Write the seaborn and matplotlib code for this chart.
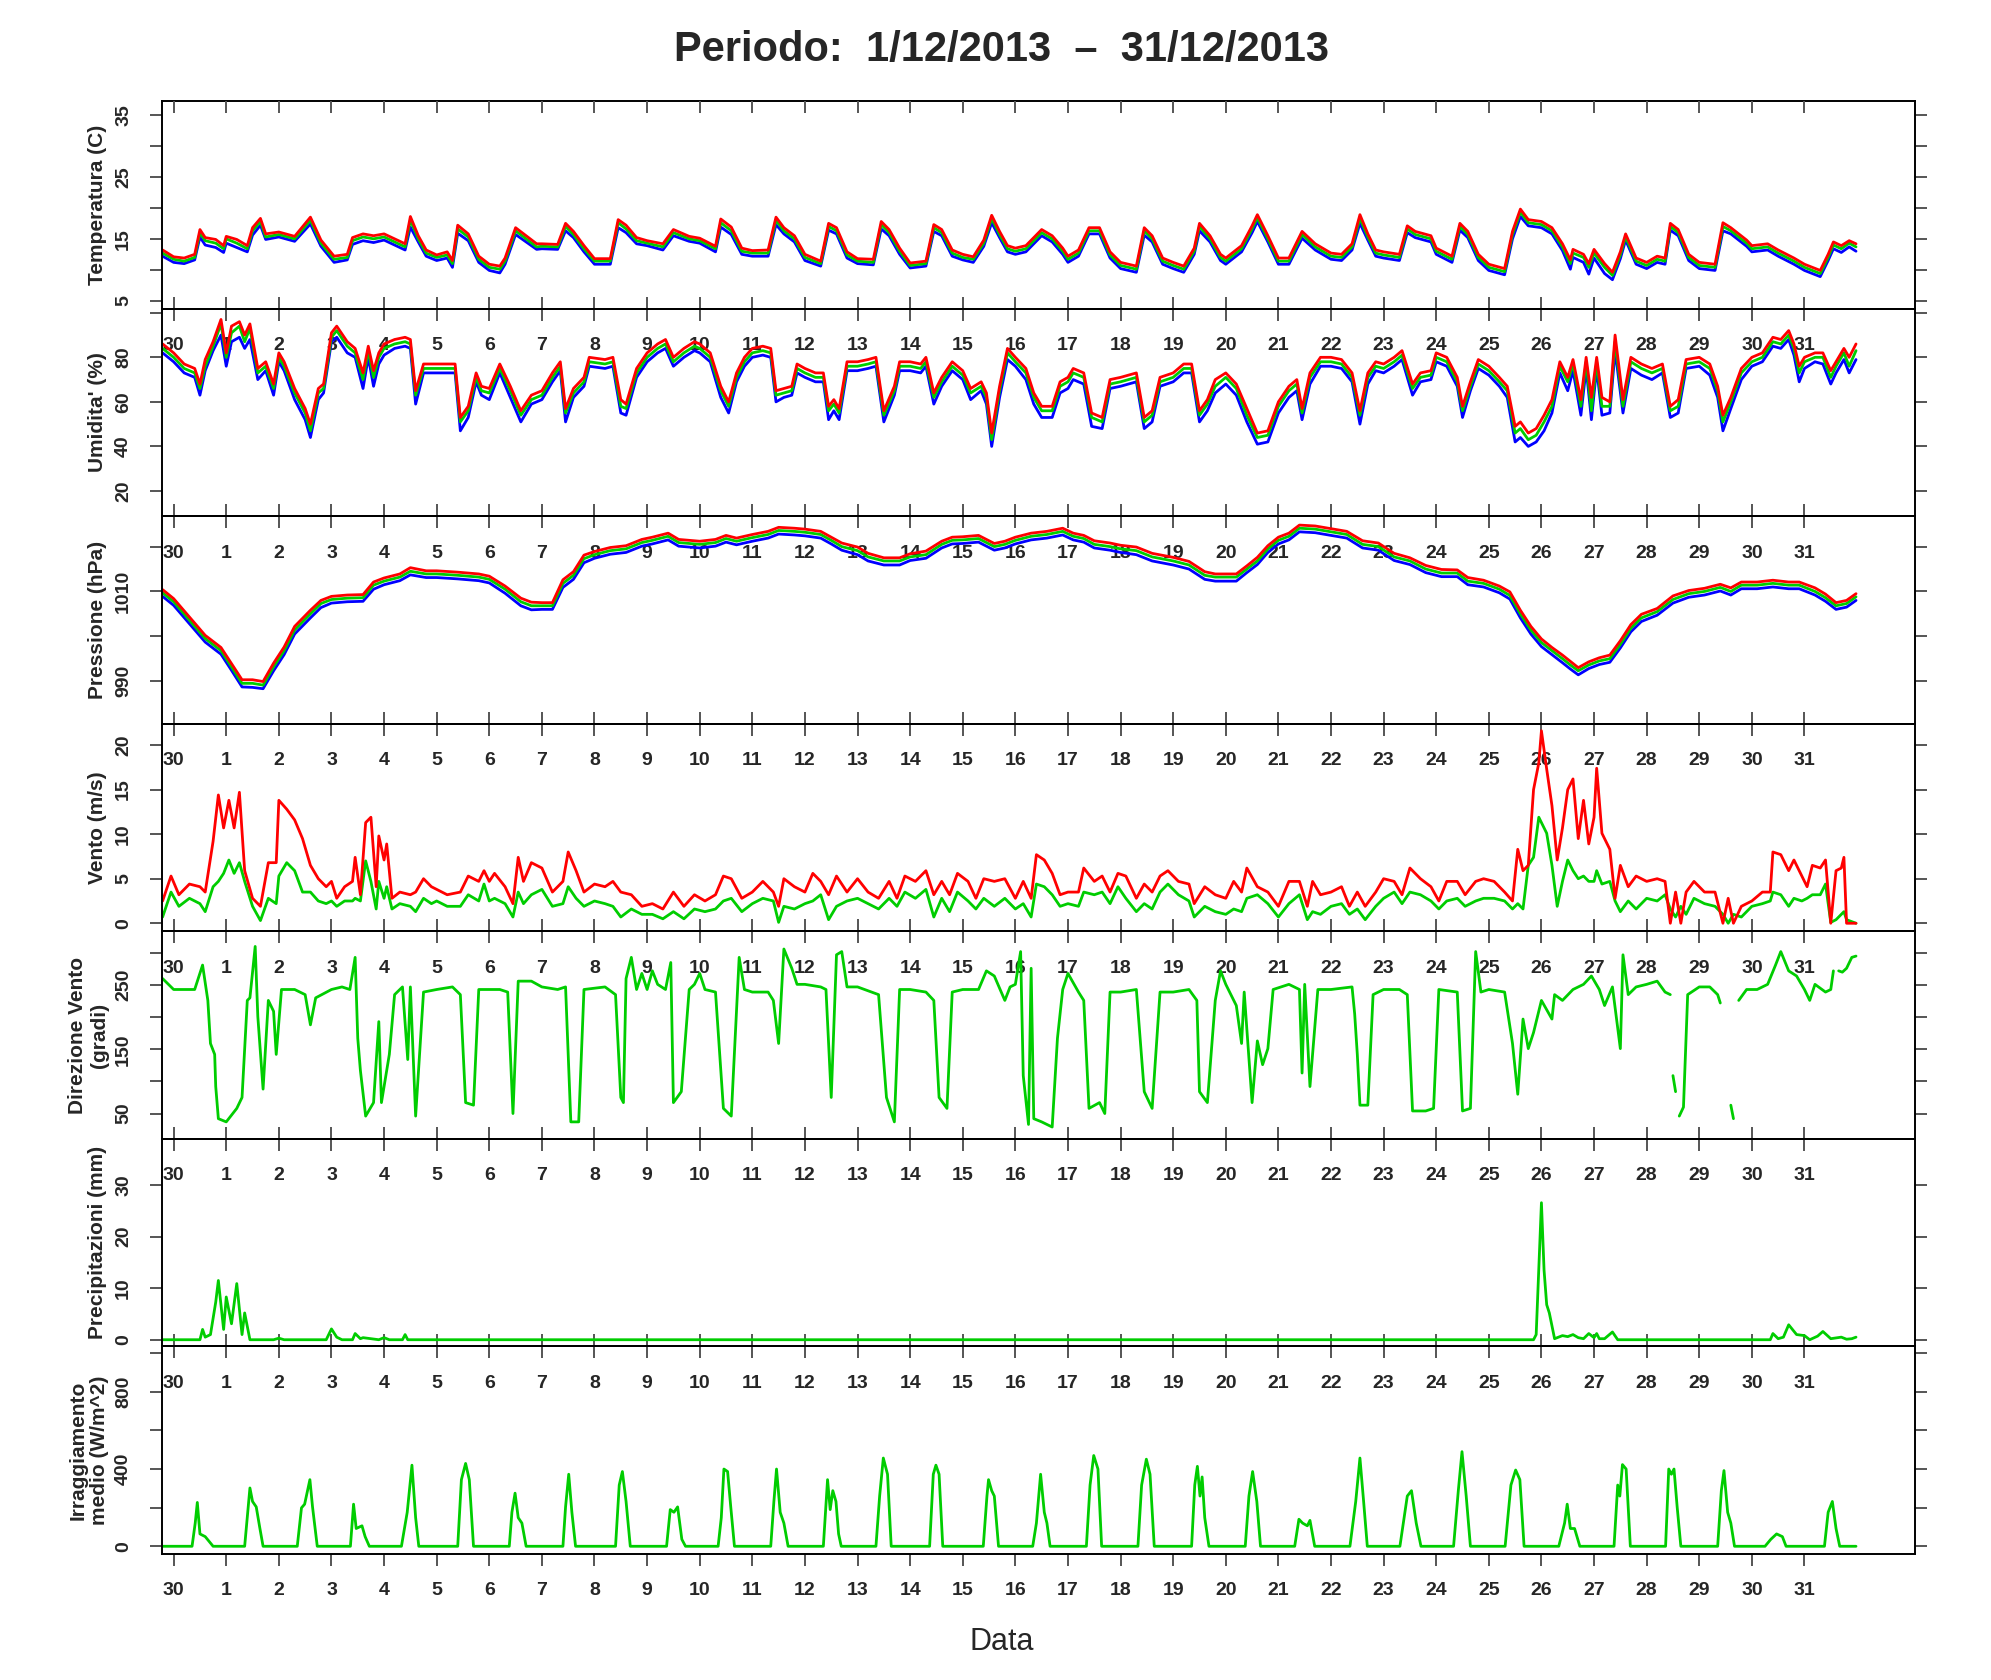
import pandas as pd
import seaborn as sns
import matplotlib.pyplot as plt
import matplotlib.dates as mdates

# Values. Times are in days counted from 30/11 00:00.

# Temperatura (C): min / media / max
temp_day = [-0.21, 0.0, 0.2, 0.4, 0.5, 0.6, 0.8, 0.95, 1.0, 1.2,
            1.4, 1.5, 1.65, 1.75, 2.0, 2.3, 2.6, 2.8, 3.05, 3.3,
            3.4, 3.6, 3.8, 4.0, 4.2, 4.4, 4.5, 4.65, 4.8, 5.0,
            5.2, 5.3, 5.4, 5.6, 5.8, 6.0, 6.2, 6.3, 6.5, 6.7,
            6.9, 7.0, 7.3, 7.45, 7.6, 7.8, 8.0, 8.3, 8.45, 8.6,
            8.8, 9.0, 9.3, 9.5, 9.8, 10.0, 10.3, 10.4, 10.6, 10.8,
            11.0, 11.3, 11.45, 11.6, 11.8, 12.0, 12.3, 12.45, 12.6, 12.8,
            13.0, 13.3, 13.45, 13.6, 13.8, 14.0, 14.3, 14.45, 14.6, 14.8,
            15.0, 15.2, 15.4, 15.55, 15.7, 15.85, 16.0, 16.2, 16.5, 16.7,
            16.9, 17.0, 17.2, 17.4, 17.6, 17.8, 18.0, 18.3, 18.45, 18.6,
            18.8, 19.0, 19.2, 19.4, 19.5, 19.7, 19.9, 20.0, 20.3, 20.5,
            20.6, 20.8, 21.0, 21.2, 21.45, 21.7, 22.0, 22.2, 22.4, 22.55,
            22.7, 22.85, 23.0, 23.3, 23.45, 23.6, 23.9, 24.0, 24.3, 24.45,
            24.6, 24.8, 25.0, 25.3, 25.45, 25.6, 25.75, 26.0, 26.2, 26.4,
            26.55, 26.6, 26.8, 26.9, 27.0, 27.2, 27.35, 27.5, 27.6, 27.8,
            28.0, 28.2, 28.35, 28.45, 28.6, 28.8, 29.0, 29.3, 29.45, 29.6,
            29.9, 30.0, 30.3, 30.5, 30.8, 31.0, 31.3, 31.45, 31.55, 31.7,
            31.85, 31.98]
temp_mean = [12.7, 11.7, 11.4, 12.0, 16.0, 14.7, 14.3, 13.4, 15.0, 14.3,
             13.4, 16.3, 17.8, 15.3, 15.7, 15.0, 18.0, 14.3, 11.7, 12.0,
             14.7, 15.3, 15.0, 15.3, 14.5, 13.7, 18.0, 15.0, 12.7, 12.0,
             12.4, 11.0, 16.6, 15.3, 11.7, 10.4, 10.1, 11.4, 16.3, 15.0,
             13.7, 13.8, 13.7, 17.0, 15.7, 13.4, 11.4, 11.4, 17.6, 16.6,
             14.7, 14.3, 13.7, 16.0, 15.0, 14.7, 13.4, 17.6, 16.3, 13.0,
             12.7, 12.7, 18.0, 16.3, 15.0, 12.0, 11.0, 17.0, 16.3, 12.4,
             11.4, 11.2, 17.3, 16.0, 13.0, 10.7, 11.0, 16.8, 16.0, 12.7,
             12.0, 11.7, 14.3, 18.3, 15.7, 13.4, 13.0, 13.4, 16.0, 15.0,
             13.0, 11.7, 12.7, 16.3, 16.3, 12.4, 10.7, 10.1, 16.3, 15.0,
             11.4, 10.7, 10.1, 13.0, 17.0, 15.0, 12.0, 11.4, 13.4, 16.6,
             18.4, 15.0, 11.4, 11.4, 15.7, 13.7, 12.2, 12.0, 13.7, 18.3,
             15.3, 12.7, 12.4, 12.0, 16.6, 15.7, 15.0, 13.0, 11.7, 17.0,
             15.7, 12.0, 10.4, 9.7, 15.7, 19.3, 17.6, 17.3, 16.3, 13.7,
             11.0, 12.7, 12.0, 10.4, 12.7, 10.4, 9.1, 12.4, 15.3, 11.4,
             10.7, 11.7, 11.4, 17.0, 16.0, 12.0, 10.7, 10.4, 17.0, 16.3,
             14.3, 13.4, 13.7, 12.7, 11.4, 10.4, 9.4, 12.0, 14.0, 13.4,
             14.3, 13.7]
temp_max = [13.2, 12.1, 11.9, 12.5, 16.5, 15.2, 14.9, 13.9, 15.4, 14.9,
            13.9, 16.8, 18.3, 15.8, 16.1, 15.4, 18.5, 14.8, 12.2, 12.5,
            15.2, 15.8, 15.5, 15.8, 15.0, 14.2, 18.6, 15.5, 13.2, 12.4,
            12.9, 11.5, 17.2, 15.8, 12.2, 10.9, 10.6, 11.9, 16.8, 15.5,
            14.2, 14.2, 14.1, 17.5, 16.2, 13.9, 11.8, 11.8, 18.1, 17.2,
            15.2, 14.7, 14.2, 16.5, 15.4, 15.1, 13.8, 18.2, 16.9, 13.5,
            13.1, 13.2, 18.5, 16.8, 15.5, 12.5, 11.4, 17.5, 16.8, 12.9,
            11.8, 11.7, 17.8, 16.5, 13.5, 11.1, 11.4, 17.3, 16.5, 13.2,
            12.5, 12.1, 14.8, 18.8, 16.2, 13.9, 13.5, 13.9, 16.5, 15.5,
            13.5, 12.2, 13.2, 16.8, 16.8, 12.9, 11.2, 10.6, 16.8, 15.5,
            11.9, 11.2, 10.6, 13.5, 17.5, 15.5, 12.5, 11.9, 13.9, 17.1,
            18.9, 15.5, 11.9, 11.9, 16.2, 14.2, 12.7, 12.5, 14.2, 18.9,
            15.8, 13.2, 12.9, 12.5, 17.1, 16.2, 15.5, 13.5, 12.2, 17.5,
            16.2, 12.5, 10.9, 10.2, 16.2, 19.8, 18.1, 17.8, 16.8, 14.2,
            11.6, 13.3, 12.5, 11.0, 13.3, 11.0, 9.6, 12.9, 15.8, 11.9,
            11.2, 12.2, 11.9, 17.5, 16.5, 12.5, 11.2, 10.9, 17.6, 16.8,
            14.8, 13.9, 14.2, 13.2, 11.9, 10.9, 9.9, 12.5, 14.5, 13.9,
            14.7, 14.2]
temp_min = [12.2, 11.2, 11.0, 11.6, 15.3, 14.0, 13.6, 12.8, 14.3, 13.6,
            12.9, 15.6, 17.2, 14.9, 15.3, 14.6, 17.4, 13.8, 11.2, 11.6,
            14.1, 14.7, 14.4, 14.8, 14.0, 13.2, 16.9, 14.5, 12.2, 11.5,
            11.9, 10.4, 15.9, 14.7, 11.2, 9.9, 9.5, 10.9, 15.7, 14.5,
            13.3, 13.4, 13.3, 16.3, 15.2, 12.9, 10.9, 10.9, 16.8, 16.0,
            14.2, 13.9, 13.2, 15.5, 14.6, 14.3, 12.9, 16.9, 15.7, 12.5,
            12.2, 12.2, 17.3, 15.8, 14.5, 11.5, 10.6, 16.4, 15.8, 11.9,
            11.0, 10.8, 16.6, 15.5, 12.5, 10.3, 10.6, 16.2, 15.5, 12.2,
            11.6, 11.2, 13.8, 17.6, 15.2, 12.9, 12.5, 12.9, 15.5, 14.5,
            12.5, 11.2, 12.2, 15.8, 15.8, 11.9, 10.2, 9.6, 15.6, 14.5,
            10.9, 10.2, 9.6, 12.5, 16.3, 14.5, 11.5, 10.9, 12.9, 16.0,
            17.8, 14.5, 10.9, 10.9, 15.1, 13.2, 11.7, 11.5, 13.2, 17.5,
            14.8, 12.2, 11.9, 11.5, 16.0, 15.2, 14.5, 12.5, 11.2, 16.4,
            15.2, 11.5, 9.9, 9.2, 15.0, 18.6, 17.1, 16.8, 15.8, 13.1,
            10.1, 12.0, 11.2, 9.3, 11.9, 9.4, 8.4, 11.8, 14.8, 10.9,
            10.2, 11.2, 10.9, 16.4, 15.5, 11.5, 10.2, 9.9, 16.3, 15.8,
            13.8, 12.9, 13.2, 12.2, 10.9, 9.9, 8.9, 11.5, 13.4, 12.8,
            13.7, 13.0]

# Umidita' (%): min / media / max
hum_day = [-0.21, 0.0, 0.2, 0.4, 0.5, 0.6, 0.75, 0.9, 1.0, 1.1,
           1.25, 1.35, 1.45, 1.6, 1.75, 1.9, 2.0, 2.1, 2.3, 2.5,
           2.6, 2.75, 2.85, 3.0, 3.1, 3.3, 3.45, 3.6, 3.7, 3.8,
           3.9, 4.0, 4.2, 4.4, 4.5, 4.6, 4.75, 5.0, 5.2, 5.35,
           5.45, 5.6, 5.75, 5.85, 6.0, 6.2, 6.4, 6.6, 6.8, 7.0,
           7.2, 7.35, 7.45, 7.6, 7.8, 7.9, 8.2, 8.35, 8.5, 8.6,
           8.8, 9.0, 9.2, 9.35, 9.5, 9.7, 9.9, 10.0, 10.2, 10.4,
           10.55, 10.7, 10.85, 11.0, 11.2, 11.35, 11.45, 11.6, 11.75, 11.85,
           12.0, 12.2, 12.35, 12.45, 12.55, 12.65, 12.8, 13.0, 13.2, 13.35,
           13.5, 13.7, 13.8, 14.0, 14.2, 14.3, 14.45, 14.6, 14.8, 15.0,
           15.15, 15.35, 15.45, 15.55, 15.7, 15.85, 16.0, 16.2, 16.35, 16.5,
           16.7, 16.85, 17.0, 17.1, 17.3, 17.45, 17.65, 17.8, 18.0, 18.3,
           18.45, 18.6, 18.75, 19.0, 19.2, 19.35, 19.5, 19.65, 19.8, 20.0,
           20.2, 20.4, 20.6, 20.8, 21.0, 21.2, 21.35, 21.45, 21.6, 21.8,
           22.0, 22.2, 22.4, 22.55, 22.7, 22.85, 23.0, 23.2, 23.35, 23.55,
           23.7, 23.9, 24.0, 24.2, 24.4, 24.5, 24.65, 24.8, 25.0, 25.2,
           25.35, 25.5, 25.6, 25.75, 25.9, 26.05, 26.2, 26.35, 26.5, 26.6,
           26.75, 26.85, 26.95, 27.05, 27.15, 27.3, 27.4, 27.55, 27.7, 27.9,
           28.1, 28.3, 28.45, 28.6, 28.75, 29.0, 29.2, 29.35, 29.45, 29.6,
           29.8, 30.0, 30.2, 30.4, 30.55, 30.7, 30.8, 30.9, 31.0, 31.2,
           31.35, 31.5, 31.6, 31.75, 31.85, 31.98]
hum_mean = [84, 80, 75, 73, 66, 76, 85, 95, 80, 91,
            94, 87, 93, 73, 76, 66, 80, 76, 64, 55,
            47, 64, 66, 89, 92, 85, 82, 70, 83, 71,
            80, 84, 86, 87, 86, 63, 75, 75, 75, 75,
            51, 56, 71, 65, 64, 75, 65, 54, 61, 63,
            71, 76, 55, 64, 69, 78, 77, 78, 58, 57,
            73, 80, 84, 86, 78, 82, 85, 84, 80, 65,
            58, 71, 78, 82, 83, 82, 63, 64, 65, 75,
            73, 71, 71, 56, 59, 55, 76, 76, 77, 78,
            54, 65, 76, 76, 75, 78, 62, 69, 76, 72,
            64, 67, 62, 43, 65, 82, 78, 73, 62, 56,
            56, 67, 69, 73, 71, 53, 51, 68, 69, 71,
            51, 54, 69, 71, 75, 75, 54, 59, 67, 71,
            66, 54, 44, 45, 58, 65, 68, 55, 71, 78,
            78, 77, 71, 54, 71, 76, 75, 78, 81, 66,
            71, 72, 80, 78, 69, 56, 67, 77, 74, 69,
            65, 46, 48, 43, 45, 51, 58, 76, 69, 77,
            58, 78, 56, 78, 58, 58, 87, 58, 78, 75,
            73, 75, 56, 58, 77, 78, 75, 65, 51, 60,
            73, 78, 80, 87, 86, 90, 84, 73, 78, 80,
            80, 71, 76, 82, 76, 83]
hum_max = [86, 82, 77, 75, 68, 79, 87, 97, 82, 94,
           96, 90, 95, 75, 78, 68, 82, 78, 66, 57,
           50, 66, 68, 91, 94, 87, 84, 73, 85, 74,
           82, 86, 88, 89, 88, 65, 77, 77, 77, 77,
           53, 58, 73, 67, 66, 77, 67, 56, 63, 65,
           73, 78, 57, 66, 71, 80, 79, 80, 61, 59,
           75, 82, 86, 88, 80, 84, 87, 86, 82, 67,
           60, 73, 80, 84, 85, 84, 65, 66, 67, 77,
           75, 73, 73, 58, 61, 57, 78, 78, 79, 80,
           56, 67, 78, 78, 77, 80, 64, 71, 78, 74,
           66, 69, 64, 46, 67, 84, 80, 75, 64, 58,
           58, 69, 71, 75, 73, 55, 53, 70, 71, 73,
           53, 56, 71, 73, 77, 77, 56, 61, 70, 73,
           68, 57, 46, 47, 60, 67, 70, 57, 73, 80,
           80, 79, 73, 56, 73, 78, 77, 80, 83, 68,
           73, 74, 82, 80, 71, 58, 69, 79, 76, 71,
           67, 49, 51, 46, 48, 54, 61, 78, 71, 79,
           61, 80, 62, 80, 62, 60, 90, 61, 80, 77,
           75, 77, 58, 61, 79, 80, 77, 67, 54, 62,
           75, 80, 82, 89, 88, 92, 86, 76, 80, 82,
           82, 74, 78, 84, 80, 86]
hum_min = [82, 78, 73, 71, 63, 74, 83, 90, 76, 87,
           89, 84, 88, 70, 74, 63, 78, 74, 61, 52,
           44, 61, 64, 87, 89, 82, 80, 66, 80, 67,
           77, 81, 84, 85, 84, 59, 73, 73, 73, 73,
           47, 53, 69, 63, 61, 73, 62, 51, 59, 61,
           69, 74, 51, 62, 67, 76, 75, 76, 55, 54,
           71, 78, 82, 84, 76, 80, 83, 82, 78, 62,
           55, 69, 76, 80, 81, 80, 60, 62, 63, 73,
           71, 69, 69, 52, 56, 52, 74, 74, 75, 76,
           51, 63, 74, 74, 73, 76, 59, 67, 74, 70,
           61, 65, 59, 40, 62, 79, 76, 70, 59, 53,
           53, 64, 66, 70, 68, 49, 48, 66, 67, 69,
           48, 51, 67, 69, 73, 73, 51, 56, 64, 68,
           63, 51, 41, 42, 55, 62, 65, 52, 68, 76,
           76, 75, 69, 50, 68, 74, 73, 76, 79, 63,
           69, 70, 78, 76, 67, 53, 65, 75, 72, 67,
           62, 42, 44, 40, 42, 47, 55, 73, 65, 74,
           54, 75, 52, 75, 54, 55, 83, 55, 75, 72,
           70, 73, 53, 55, 75, 76, 72, 62, 47, 57,
           70, 76, 78, 85, 84, 88, 81, 69, 75, 78,
           77, 68, 73, 79, 73, 79]

# Pressione (hPa): min / media / max
pres_day = [-0.21, 0.0, 0.3, 0.6, 0.9, 1.1, 1.3, 1.5, 1.7, 1.9,
            2.1, 2.3, 2.6, 2.8, 3.0, 3.3, 3.6, 3.8, 4.0, 4.3,
            4.5, 4.8, 5.0, 5.4, 5.8, 6.0, 6.3, 6.6, 6.8, 7.0,
            7.2, 7.4, 7.6, 7.8, 8.0, 8.3, 8.6, 8.9, 9.1, 9.4,
            9.6, 10.0, 10.3, 10.5, 10.7, 11.0, 11.3, 11.5, 11.8, 12.0,
            12.3, 12.5, 12.7, 13.0, 13.2, 13.5, 13.8, 14.0, 14.3, 14.6,
            14.8, 15.0, 15.3, 15.6, 15.8, 16.0, 16.3, 16.6, 16.9, 17.1,
            17.3, 17.5, 17.8, 18.0, 18.3, 18.6, 19.0, 19.3, 19.6, 19.8,
            20.0, 20.2, 20.4, 20.6, 20.8, 21.0, 21.2, 21.4, 21.7, 22.0,
            22.3, 22.6, 22.9, 23.2, 23.5, 23.8, 24.1, 24.4, 24.6, 24.9,
            25.2, 25.4, 25.6, 25.8, 26.0, 26.2, 26.4, 26.55, 26.7, 26.9,
            27.1, 27.3, 27.5, 27.7, 27.9, 28.2, 28.5, 28.8, 29.1, 29.4,
            29.6, 29.8, 30.1, 30.4, 30.7, 30.9, 31.2, 31.4, 31.6, 31.8,
            31.98]
pres_mean = [1009.7, 1007.7, 1003.6, 999.5, 996.8, 993.2, 989.5, 989.5, 989.1, 993.2,
             996.8, 1001.4, 1005.0, 1007.3, 1008.2, 1008.5, 1008.6, 1011.4, 1012.3, 1013.2,
             1014.5, 1013.9, 1013.9, 1013.6, 1013.2, 1012.7, 1010.5, 1007.7, 1006.8, 1006.8,
             1006.8, 1011.8, 1013.6, 1017.3, 1018.2, 1019.1, 1019.5, 1020.9, 1021.4, 1022.3,
             1020.9, 1020.5, 1020.9, 1021.8, 1021.2, 1022.0, 1022.7, 1023.6, 1023.4, 1023.2,
             1022.7, 1021.4, 1020.0, 1019.1, 1017.7, 1016.8, 1016.8, 1017.7, 1018.2, 1020.5,
             1021.4, 1021.5, 1021.8, 1020.0, 1020.5, 1021.4, 1022.3, 1022.7, 1023.4, 1022.3,
             1021.8, 1020.5, 1020.0, 1019.5, 1019.1, 1017.7, 1016.8, 1015.9, 1013.6, 1013.2,
             1013.2, 1013.2, 1015.0, 1016.8, 1019.5, 1021.4, 1022.3, 1024.1, 1023.9, 1023.3,
             1022.7, 1020.5, 1020.0, 1017.7, 1016.8, 1015.0, 1014.1, 1014.1, 1012.3, 1011.8,
             1010.5, 1009.1, 1005.0, 1001.4, 998.6, 996.8, 995.0, 993.6, 992.3, 993.6,
             994.5, 995.0, 998.2, 1001.8, 1004.1, 1005.5, 1008.2, 1009.5, 1010.0, 1010.9,
             1010.0, 1011.4, 1011.4, 1011.8, 1011.4, 1011.4, 1010.0, 1008.6, 1006.8, 1007.3,
             1008.8]
pres_max = [1010.4, 1008.4, 1004.3, 1000.2, 997.5, 993.9, 990.3, 990.3, 989.9, 994.0,
            997.6, 1002.2, 1005.8, 1008.0, 1008.9, 1009.2, 1009.3, 1012.1, 1013.0, 1013.9,
            1015.3, 1014.6, 1014.6, 1014.3, 1013.9, 1013.4, 1011.2, 1008.5, 1007.6, 1007.5,
            1007.5, 1012.6, 1014.4, 1018.1, 1018.9, 1019.8, 1020.2, 1021.6, 1022.1, 1023.0,
            1021.6, 1021.2, 1021.6, 1022.5, 1021.9, 1022.7, 1023.4, 1024.3, 1024.1, 1023.9,
            1023.4, 1022.1, 1020.8, 1019.9, 1018.5, 1017.5, 1017.5, 1018.4, 1019.0, 1021.2,
            1022.1, 1022.2, 1022.5, 1020.7, 1021.2, 1022.1, 1023.0, 1023.4, 1024.1, 1023.0,
            1022.5, 1021.3, 1020.8, 1020.3, 1019.9, 1018.5, 1017.6, 1016.7, 1014.4, 1013.9,
            1013.9, 1013.9, 1015.7, 1017.6, 1020.2, 1022.1, 1023.0, 1024.8, 1024.6, 1024.0,
            1023.4, 1021.3, 1020.8, 1018.5, 1017.5, 1015.8, 1014.9, 1014.8, 1013.1, 1012.5,
            1011.2, 1009.9, 1005.8, 1002.2, 999.4, 997.5, 995.8, 994.4, 993.0, 994.3,
            995.2, 995.8, 999.0, 1002.6, 1004.9, 1006.2, 1009.0, 1010.2, 1010.7, 1011.6,
            1010.8, 1012.1, 1012.1, 1012.5, 1012.1, 1012.1, 1010.8, 1009.4, 1007.5, 1008.0,
            1009.5]
pres_min = [1008.9, 1006.9, 1002.8, 998.7, 996.0, 992.4, 988.7, 988.6, 988.3, 992.3,
            995.9, 1000.5, 1004.1, 1006.4, 1007.4, 1007.7, 1007.8, 1010.5, 1011.5, 1012.4,
            1013.7, 1013.1, 1013.1, 1012.8, 1012.4, 1011.9, 1009.6, 1006.8, 1005.9, 1006.0,
            1006.0, 1010.9, 1012.7, 1016.4, 1017.4, 1018.3, 1018.7, 1020.1, 1020.6, 1021.5,
            1020.1, 1019.7, 1020.1, 1021.0, 1020.4, 1021.2, 1021.9, 1022.8, 1022.6, 1022.4,
            1021.9, 1020.6, 1019.2, 1018.2, 1016.8, 1015.9, 1015.9, 1016.9, 1017.4, 1019.7,
            1020.6, 1020.7, 1021.0, 1019.2, 1019.7, 1020.6, 1021.5, 1021.9, 1022.6, 1021.5,
            1021.0, 1019.7, 1019.2, 1018.7, 1018.2, 1016.8, 1015.9, 1015.0, 1012.7, 1012.3,
            1012.3, 1012.3, 1014.2, 1016.0, 1018.7, 1020.6, 1021.5, 1023.3, 1023.1, 1022.5,
            1021.9, 1019.7, 1019.2, 1016.9, 1016.0, 1014.2, 1013.3, 1013.3, 1011.5, 1011.0,
            1009.7, 1008.3, 1004.1, 1000.5, 997.7, 995.9, 994.1, 992.7, 991.4, 992.8,
            993.7, 994.2, 997.4, 1001.0, 1003.3, 1004.7, 1007.4, 1008.7, 1009.2, 1010.1,
            1009.2, 1010.6, 1010.6, 1011.0, 1010.6, 1010.6, 1009.2, 1007.8, 1006.0, 1006.5,
            1008.0]

# Vento (m/s): media (verde) e raffica (rosso)
wind_day = [-0.21, -0.05, 0.1, 0.3, 0.5, 0.6, 0.75, 0.85, 0.95, 1.05,
            1.15, 1.25, 1.35, 1.5, 1.65, 1.8, 1.95, 2.0, 2.15, 2.3,
            2.45, 2.6, 2.75, 2.9, 3.0, 3.1, 3.25, 3.4, 3.45, 3.55,
            3.65, 3.75, 3.85, 3.9, 4.0, 4.05, 4.15, 4.3, 4.5, 4.6,
            4.75, 4.9, 5.0, 5.2, 5.45, 5.6, 5.8, 5.9, 6.0, 6.1,
            6.3, 6.45, 6.55, 6.65, 6.8, 7.0, 7.2, 7.4, 7.5, 7.65,
            7.8, 8.0, 8.2, 8.35, 8.5, 8.7, 8.9, 9.1, 9.3, 9.5,
            9.7, 9.9, 10.1, 10.3, 10.45, 10.6, 10.8,
            11.0, 11.2, 11.4, 11.5, 11.6, 11.8, 12.0, 12.15, 12.3, 12.45,
            12.6, 12.8, 13.0, 13.2, 13.4, 13.6, 13.75, 13.9, 14.1, 14.3,
            14.45, 14.6, 14.75, 14.9, 15.1, 15.25, 15.4, 15.6, 15.8, 16.0,
            16.15, 16.3, 16.4, 16.55, 16.7, 16.85, 17.0, 17.2, 17.3, 17.5,
            17.65, 17.8, 17.95, 18.1, 18.3, 18.45, 18.6, 18.75, 18.9, 19.1,
            19.3, 19.4, 19.6, 19.8, 20.0, 20.15, 20.3, 20.4, 20.6, 20.8,
            21.0, 21.2, 21.4, 21.55, 21.65, 21.8,
            22.0, 22.2, 22.35, 22.5, 22.65, 22.85, 23.0, 23.2, 23.35, 23.5,
            23.7, 23.9, 24.05, 24.2, 24.4, 24.55, 24.75, 24.9, 25.1, 25.3,
            25.45, 25.55, 25.65, 25.75, 25.85, 25.95, 26.0, 26.1, 26.2, 26.3,
            26.4, 26.5, 26.6, 26.7, 26.8, 26.9, 27.0, 27.05, 27.15, 27.3,
            27.4, 27.5, 27.65, 27.8, 28.0, 28.2, 28.35, 28.45, 28.55, 28.65,
            28.75, 28.9, 29.1, 29.3, 29.45, 29.55, 29.65, 29.8, 30.0, 30.2,
            30.35, 30.4, 30.55, 30.7, 30.8, 30.95, 31.05, 31.15, 31.3, 31.4,
            31.5, 31.6, 31.7, 31.75, 31.8, 31.98]
wind_gust = [2.5, 5.3, 3.2, 4.4, 4.1, 3.5, 9.2, 14.4, 10.7, 13.8,
             10.7, 14.7, 5.9, 2.8, 1.9, 6.8, 6.8, 13.8, 12.8, 11.6,
             9.5, 6.5, 5.0, 4.1, 4.7, 2.8, 4.1, 4.7, 7.4, 3.2,
             11.3, 11.9, 4.1, 9.8, 7.1, 8.9, 2.8, 3.5, 3.2, 3.5,
             5.0, 4.1, 3.8, 3.2, 3.5, 5.3, 4.7, 5.9, 4.7, 5.6,
             4.1, 2.2, 7.4, 4.7, 6.8, 6.2, 3.5, 4.7, 8.0, 5.9,
             3.5, 4.4, 4.1, 4.7, 3.5, 3.2, 1.9, 2.2, 1.6, 3.5,
             1.9, 3.2, 2.5, 3.2, 5.3, 5.0, 2.8,
             3.5, 4.7, 3.5, 1.9, 5.0, 4.1, 3.5, 5.6, 4.7, 3.2,
             5.3, 3.5, 5.0, 3.5, 2.8, 4.7, 2.8, 5.3, 4.7, 5.9,
             3.2, 4.7, 3.2, 5.6, 4.7, 2.8, 5.0, 4.7, 5.0, 2.8,
             4.7, 2.8, 7.7, 7.1, 5.6, 3.2, 3.5, 3.5, 6.2, 4.7,
             5.3, 3.5, 5.6, 5.3, 2.8, 4.4, 3.5, 5.3, 5.9, 4.7,
             4.4, 2.2, 4.1, 3.2, 2.8, 4.7, 3.5, 6.2, 4.1, 3.5,
             1.9, 4.7, 4.7, 1.9, 4.7, 3.2,
             3.5, 4.1, 1.9, 3.5, 1.9, 3.5, 5.0, 4.7, 3.2, 6.2,
             5.0, 4.1, 2.5, 4.7, 4.7, 3.2, 4.7, 5.0, 4.7, 3.5,
             2.5, 8.3, 5.9, 6.5, 15.0, 18.0, 21.6, 17.3, 13.2, 7.1,
             10.7, 15.0, 16.2, 9.5, 13.8, 8.9, 11.9, 17.4, 10.1, 8.3,
             2.8, 6.5, 4.1, 5.3, 4.7, 5.0, 4.7, 0.0, 3.5, 0.0,
             3.5, 4.7, 3.5, 3.5, 0.0, 2.8, 0.0, 1.9, 2.5, 3.5,
             3.5, 8.0, 7.7, 5.9, 7.1, 5.3, 4.1, 6.5, 6.2, 7.1,
             0.0, 5.9, 6.2, 7.4, 0.0, 0.0]
wind_mean = [0.7, 3.5, 1.9, 2.8, 2.2, 1.3, 4.1, 4.7, 5.6, 7.1,
             5.6, 6.8, 4.7, 1.9, 0.3, 2.8, 2.2, 5.3, 6.8, 5.9,
             3.5, 3.5, 2.5, 2.2, 2.5, 1.9, 2.5, 2.5, 2.8, 2.5,
             7.0, 4.7, 1.6, 4.7, 2.8, 4.1, 1.6, 2.2, 1.9, 1.3,
             2.8, 2.2, 2.5, 1.9, 1.9, 3.2, 2.5, 4.4, 2.5, 2.8,
             2.2, 0.7, 3.5, 2.2, 3.2, 3.8, 1.9, 2.2, 4.1, 2.8,
             1.9, 2.5, 2.2, 1.9, 0.7, 1.6, 1.0, 1.0, 0.5, 1.3,
             0.5, 1.6, 1.3, 1.6, 2.5, 2.8, 1.3,
             2.2, 2.8, 2.5, 0.1, 1.9, 1.6, 2.2, 2.5, 3.2, 0.4,
             1.9, 2.5, 2.8, 2.2, 1.6, 2.8, 1.9, 3.5, 2.8, 3.8,
             0.7, 2.8, 1.3, 3.5, 2.5, 1.6, 2.8, 1.9, 2.8, 1.6,
             2.2, 0.7, 4.4, 4.1, 3.2, 1.9, 2.2, 1.9, 3.5, 3.2,
             3.5, 2.2, 4.1, 2.8, 1.3, 2.2, 1.6, 3.5, 4.4, 3.2,
             2.5, 0.7, 1.9, 1.3, 1.0, 1.6, 1.3, 2.8, 3.2, 2.2,
             0.7, 2.2, 3.2, 0.4, 1.3, 1.0,
             1.9, 2.2, 1.0, 1.6, 0.4, 1.9, 2.8, 3.5, 2.2, 3.5,
             3.2, 2.5, 1.6, 2.5, 2.8, 1.9, 2.5, 2.8, 2.8, 2.5,
             1.6, 2.2, 1.6, 6.5, 7.4, 11.9, 11.3, 10.1, 6.5, 1.9,
             4.7, 7.1, 5.9, 5.0, 5.3, 4.7, 4.7, 5.9, 4.4, 4.7,
             2.5, 1.3, 2.5, 1.6, 2.8, 2.5, 3.2, 1.6, 0.7, 1.9,
             1.0, 2.8, 2.2, 1.9, 1.0, 0.0, 1.0, 0.7, 1.9, 2.2,
             2.5, 3.5, 3.2, 1.9, 2.8, 2.5, 2.8, 3.2, 3.2, 4.4,
             0.1, 0.4, 1.0, 1.3, 0.4, 0.0]

# Direzione Vento (gradi); nan = dato mancante
nan = float("nan")
dir_day = [-0.21, 0.0, 0.25, 0.4, 0.5, 0.55, 0.65, 0.7, 0.78, 0.8,
           0.85, 1.0, 1.2, 1.3, 1.4, 1.45, 1.55, 1.6, 1.7, 1.8,
           1.9, 1.95, 2.05, 2.3, 2.5, 2.6, 2.7, 3.0, 3.2, 3.35,
           3.45, 3.5, 3.55, 3.65, 3.8, 3.9, 3.95, 4.1, 4.2, 4.35,
           4.45, 4.5, 4.6, 4.75, 5.0, 5.3, 5.45, 5.55, 5.7, 5.8,
           6.2, 6.35, 6.45, 6.55, 6.8, 7.0, 7.3, 7.45, 7.55, 7.7,
           7.8, 8.2, 8.4, 8.5, 8.55, 8.6, 8.7, 8.8, 8.9, 9.0,
           9.1, 9.2, 9.35, 9.45, 9.5, 9.65, 9.8, 9.9, 10.0, 10.1,
           10.3, 10.45, 10.6, 10.75, 10.85,
           11.0, 11.3, 11.4, 11.5, 11.6, 11.75, 11.85, 12.0, 12.3, 12.4,
           12.5, 12.6, 12.7, 12.8, 13.0, 13.4, 13.55, 13.7, 13.8, 14.0,
           14.3, 14.45, 14.55, 14.7, 14.8, 15.0, 15.3, 15.45, 15.6, 15.8,
           15.9, 16.0, 16.1, 16.15, 16.25, 16.3, 16.35, 16.5, 16.7, 16.8,
           16.9, 17.0, 17.2, 17.3, 17.4, 17.6, 17.7, 17.8, 18.0, 18.3,
           18.45, 18.6, 18.75, 19.0, 19.3, 19.45, 19.5, 19.65, 19.8, 19.9,
           20.0, 20.2, 20.3, 20.35, 20.5, 20.6, 20.7, 20.8, 20.9, 21.2,
           21.4, 21.45, 21.5, 21.6, 21.75,
           22.0, 22.4, 22.45, 22.5, 22.55, 22.7, 22.8, 23.0, 23.3, 23.45,
           23.55, 23.8, 23.95, 24.05, 24.4, 24.5, 24.65, 24.75, 24.85, 25.0,
           25.3, 25.45, 25.55, 25.65, 25.75, 25.85, 26.0, 26.2, 26.25, 26.4,
           26.6, 26.8, 26.95, 27.1, 27.2, 27.35, 27.5, 27.55, 27.65, 27.8,
           28.0, 28.2, 28.35, 28.45, 28.47, 28.5, 28.55, 28.58, 28.62, 28.7,
           28.78, 29.0, 29.2, 29.35, 29.4, 29.5, 29.6, 29.65, 29.7, 29.75,
           29.9, 30.1, 30.3, 30.45, 30.55, 30.7, 30.85, 31.0, 31.1, 31.2,
           31.4, 31.5, 31.55, 31.6, 31.65, 31.72, 31.8, 31.9, 31.98]
dir_val = [260, 243, 243, 243, 268, 281, 226, 159, 142, 92,
           42, 37, 58, 75, 226, 230, 310, 201, 88, 226,
           209, 142, 243, 243, 235, 188, 230, 243, 247, 243,
           293, 167, 117, 46, 67, 193, 67, 142, 235, 247,
           134, 247, 46, 239, 243, 247, 235, 67, 63, 243,
           243, 239, 50, 256, 256, 247, 243, 247, 37, 37,
           243, 247, 235, 75, 67, 260, 293, 243, 268, 243,
           272, 251, 243, 285, 67, 84, 243, 251, 268, 243,
           239, 58, 46, 293, 243,
           239, 239, 226, 159, 306, 276, 251, 251, 247, 243,
           75, 297, 302, 247, 247, 235, 75, 37, 243, 243,
           239, 226, 75, 58, 239, 243, 243, 272, 264, 226,
           247, 251, 302, 109, 33, 276, 42, 37, 29, 167,
           243, 268, 239, 226, 58, 67, 50, 239, 239, 243,
           84, 58, 239, 239, 243, 226, 84, 67, 226, 272,
           251, 218, 159, 239, 67, 163, 126, 151, 243, 251,
           243, 113, 251, 92, 243,
           243, 247, 205, 142, 63, 63, 235, 243, 243, 235,
           54, 54, 58, 243, 239, 54, 58, 302, 239, 243,
           239, 159, 80, 197, 151, 176, 226, 197, 235, 226,
           243, 251, 264, 243, 218, 247, 151, 297, 235, 247,
           251, 256, 239, 235, nan, 109, 84, nan, 46, 60,
           235, 247, 247, 235, 222, nan, 63, 42, nan, 226,
           243, 243, 251, 281, 302, 272, 264, 243, 226, 251,
           239, 243, 272, nan, 272, 270, 276, 293, 295]

# Precipitazioni (mm)
rain_day = [-0.21, 0.5, 0.55, 0.6, 0.7, 0.8, 0.85, 0.95, 1.0, 1.1,
            1.2, 1.3, 1.35, 1.45, 1.9, 2.0, 2.1, 2.9, 3.0, 3.1,
            3.2, 3.4, 3.45, 3.55, 3.6, 3.9, 4.0, 4.1, 4.35, 4.4,
            4.45, 25.85, 25.9, 26.0, 26.05, 26.1, 26.15, 26.25, 26.4, 26.5,
            26.6, 26.7, 26.8, 26.9, 27.0, 27.05, 27.1, 27.2, 27.35, 27.45,
            30.35, 30.4, 30.5, 30.6, 30.7, 30.85, 31.0, 31.1, 31.25, 31.35,
            31.5, 31.7, 31.8, 31.9, 31.98]
rain_mm = [0, 0, 2.0, 0.5, 1.0, 7.3, 11.5, 2.0, 8.3, 3.1,
           10.9, 1.0, 5.2, 0, 0, 0.3, 0, 0, 2.1, 0.5,
           0, 0, 1.2, 0.2, 0.4, 0, 0.4, 0, 0, 1.0,
           0, 0, 1.0, 26.6, 13.5, 6.8, 5.2, 0.2, 0.8, 0.6,
           1.0, 0.4, 0.2, 1.2, 0.4, 1.2, 0.2, 0.2, 1.5, 0,
           0, 1.2, 0.2, 0.5, 2.9, 1.0, 0.8, 0, 0.7, 1.6,
           0.2, 0.5, 0.1, 0.2, 0.5]

# Irraggiamento medio (W/m^2)
sun_day = [-0.21,
           0.35, 0.41, 0.45, 0.5, 0.6, 0.75,
           1.35, 1.45, 1.5, 1.57, 1.64, 1.7,
           2.35, 2.43, 2.49, 2.59, 2.64, 2.73,
           3.36, 3.42, 3.47, 3.58, 3.64, 3.72,
           4.33, 4.44, 4.53, 4.6, 4.66,
           5.4, 5.47, 5.55, 5.62, 5.7,
           6.38, 6.43, 6.49, 6.55, 6.62, 6.7,
           7.4, 7.45, 7.51, 7.57, 7.64,
           8.4, 8.47, 8.53, 8.6, 8.68,
           9.37, 9.44, 9.51, 9.58, 9.66, 9.73,
           10.35, 10.41, 10.46, 10.53, 10.59, 10.66,
           11.35, 11.41, 11.46, 11.53, 11.6, 11.68,
           12.35, 12.43, 12.48, 12.53, 12.59, 12.64, 12.69,
           13.35, 13.42, 13.49, 13.57, 13.64,
           14.37, 14.44, 14.49, 14.55, 14.62,
           15.39, 15.46, 15.49, 15.55, 15.6, 15.68,
           16.33, 16.4, 16.48, 16.55, 16.6, 16.66,
           17.35, 17.42, 17.49, 17.57, 17.64,
           18.33, 18.4, 18.49, 18.56, 18.64,
           19.35, 19.41, 19.46, 19.51, 19.55, 19.6, 19.68,
           20.37, 20.44, 20.51, 20.59, 20.66,
           21.31, 21.39, 21.46, 21.55, 21.6, 21.69,
           22.36, 22.47, 22.55, 22.62, 22.69,
           23.31, 23.45, 23.53, 23.62, 23.71,
           24.33, 24.42, 24.49, 24.57, 24.65,
           25.31, 25.42, 25.51, 25.59, 25.67,
           26.33, 26.44, 26.49, 26.55, 26.63, 26.73,
           27.38, 27.45, 27.49, 27.54, 27.61, 27.69,
           28.36, 28.42, 28.47, 28.52, 28.58, 28.65,
           29.35, 29.42, 29.47, 29.54, 29.6, 29.67,
           30.25, 30.36, 30.47, 30.58, 30.65,
           31.38, 31.45, 31.53, 31.6, 31.67,
           31.98]
sun_wm2 = [0,
           0, 120, 227, 64, 50, 0,
           0, 302, 232, 204, 92, 0,
           0, 199, 218, 345, 204, 0,
           0, 218, 92, 106, 50, 0,
           0, 176, 420, 148, 0,
           0, 345, 429, 345, 0,
           0, 176, 275, 148, 120, 0,
           0, 204, 373, 176, 0,
           0, 317, 387, 232, 0,
           0, 190, 176, 204, 36, 0,
           0, 148, 400, 387, 204, 0,
           0, 232, 400, 176, 120, 0,
           0, 345, 190, 288, 232, 64, 0,
           0, 260, 457, 373, 0,
           0, 373, 420, 373, 0,
           0, 260, 345, 288, 260, 0,
           0, 120, 373, 176, 120, 0,
           0, 317, 470, 400, 0,
           0, 317, 451, 373, 0,
           0, 317, 414, 260, 359, 148, 0,
           0, 260, 387, 232, 0,
           0, 140, 120, 106, 134, 0,
           0, 232, 457, 232, 0,
           0, 260, 288, 120, 0,
           0, 288, 490, 260, 0,
           0, 317, 395, 345, 0,
           0, 120, 218, 92, 92, 0,
           0, 317, 260, 423, 400, 0,
           0, 400, 373, 400, 204, 0,
           0, 288, 392, 176, 120, 0,
           0, 36, 64, 50, 0,
           0, 176, 232, 92, 0,
           0]

BASE = pd.Timestamp("2013-11-30")
RED, GREEN, BLUE = "#ff0000", "#00cd00", "#0000ff"
TICK_COLOR = "#555555"
LW = 2.0

tick_days = pd.date_range("2013-11-30", "2013-12-31", freq="D")
day_labels = [str(d.day) for d in tick_days]
x_start = BASE + pd.Timedelta(days=-0.22)
x_end = BASE + pd.Timedelta(days=33.1)


def to_time(days):
    return BASE + pd.to_timedelta(days, unit="D")


def draw(ax, days, values, color):
    sns.lineplot(x=to_time(days), y=values, ax=ax, color=color,
                 linewidth=LW, estimator=None, sort=False)


def style_panel(ax, ylim, yticks, ylabels, title, label_x, last=False):
    ax.patch.set_visible(False)
    ax.set_xlim(x_start, x_end)
    ax.set_ylim(*ylim)
    ax.set_xticks(tick_days)
    ax.set_xticklabels(day_labels)
    ax.set_yticks(yticks)
    ax.set_yticklabels(ylabels, rotation=90, va="center")
    ax.tick_params(axis="x", direction="out" if last else "inout",
                   length=8.5 if last else 17, width=1.4, color=TICK_COLOR,
                   pad=12, labelsize=14, top=False, bottom=True)
    ax.tick_params(axis="y", direction="out", length=8.5, width=1.4,
                   color=TICK_COLOR, pad=13, labelsize=14,
                   left=True, right=True, labelright=False)
    for lab in ax.get_xticklabels() + ax.get_yticklabels():
        lab.set_fontweight("bold")
    ax.set_xlabel("")
    ax.set_ylabel(title, fontsize=15, fontweight="bold", va="center", linespacing=1.15)
    ax.yaxis.set_label_coords(label_x, 0.5)
    for side in ax.spines.values():
        side.set_color("black")
        side.set_linewidth(1.4)


sns.set_style("white")
plt.rcParams["font.family"] = ["Liberation Sans", "DejaVu Sans"]

fig, axes = plt.subplots(7, 1, figsize=(19.91, 16.8), dpi=100, gridspec_kw={"hspace": 0})
fig.subplots_adjust(left=0.0814, right=0.9618, top=0.9399, bottom=0.075)

# top ticks of the first panel point inward
top = axes[0].twiny()

draw(axes[0], temp_day, temp_min, BLUE)
draw(axes[0], temp_day, temp_mean, GREEN)
draw(axes[0], temp_day, temp_max, RED)

draw(axes[1], hum_day, hum_min, BLUE)
draw(axes[1], hum_day, hum_mean, GREEN)
draw(axes[1], hum_day, hum_max, RED)

draw(axes[2], pres_day, pres_min, BLUE)
draw(axes[2], pres_day, pres_mean, GREEN)
draw(axes[2], pres_day, pres_max, RED)

draw(axes[3], wind_day, wind_mean, GREEN)
draw(axes[3], wind_day, wind_gust, RED)

dir_df = pd.DataFrame({"time": to_time(dir_day), "deg": dir_val})
dir_df["segment"] = dir_df["deg"].isna().cumsum()
dir_df = dir_df.dropna()
sns.lineplot(data=dir_df, x="time", y="deg", units="segment", estimator=None,
             color=GREEN, linewidth=LW, sort=False, ax=axes[4])

draw(axes[5], rain_day, rain_mm, GREEN)
draw(axes[6], sun_day, sun_wm2, GREEN)

style_panel(axes[0], (3.75, 37.25), [5, 10, 15, 20, 25, 30, 35],
            ["5", "", "15", "", "25", "", "35"], "Temperatura (C)", -0.037)
style_panel(axes[1], (8.7, 101.9), [20, 40, 60, 80, 100],
            ["20", "40", "60", "80", ""], "Umidita' (%)", -0.037)
style_panel(axes[2], (980.5, 1026.8), [990, 1000, 1010, 1020],
            ["990", "", "1010", ""], "Pressione (hPa)", -0.037)
style_panel(axes[3], (-0.9, 22.4), [0, 5, 10, 15, 20],
            ["0", "5", "10", "15", "20"], "Vento (m/s)", -0.037)
style_panel(axes[4], (10.6, 333.6), [50, 100, 150, 200, 250, 300],
            ["50", "", "150", "", "250", ""], "Direzione Vento\n(gradi)", -0.042)
style_panel(axes[5], (-1.3, 39.0), [0, 10, 20, 30],
            ["0", "10", "20", "30"], "Precipitazioni (mm)", -0.037)
style_panel(axes[6], (-40, 1035), [0, 200, 400, 600, 800, 1000],
            ["0", "", "400", "", "800", ""], "Irraggiamento\nmedio (W/m^2)", -0.042,
            last=True)

top.set_xlim(mdates.date2num(x_start.to_pydatetime()), mdates.date2num(x_end.to_pydatetime()))
top.set_xticks(mdates.date2num(tick_days.to_pydatetime()))
top.tick_params(axis="x", direction="in", length=8.5, width=1.4, color=TICK_COLOR,
                top=True, labeltop=False, bottom=False)
top.spines[:].set_visible(False)

fig.text(0.503, 0.970, "Periodo:  1/12/2013  \u2013  31/12/2013",
         ha="center", va="center", fontsize=30, fontweight="bold")
fig.text(0.503, 0.0226, "Data", ha="center", va="center", fontsize=22)

fig.savefig("out.png", dpi=100)
